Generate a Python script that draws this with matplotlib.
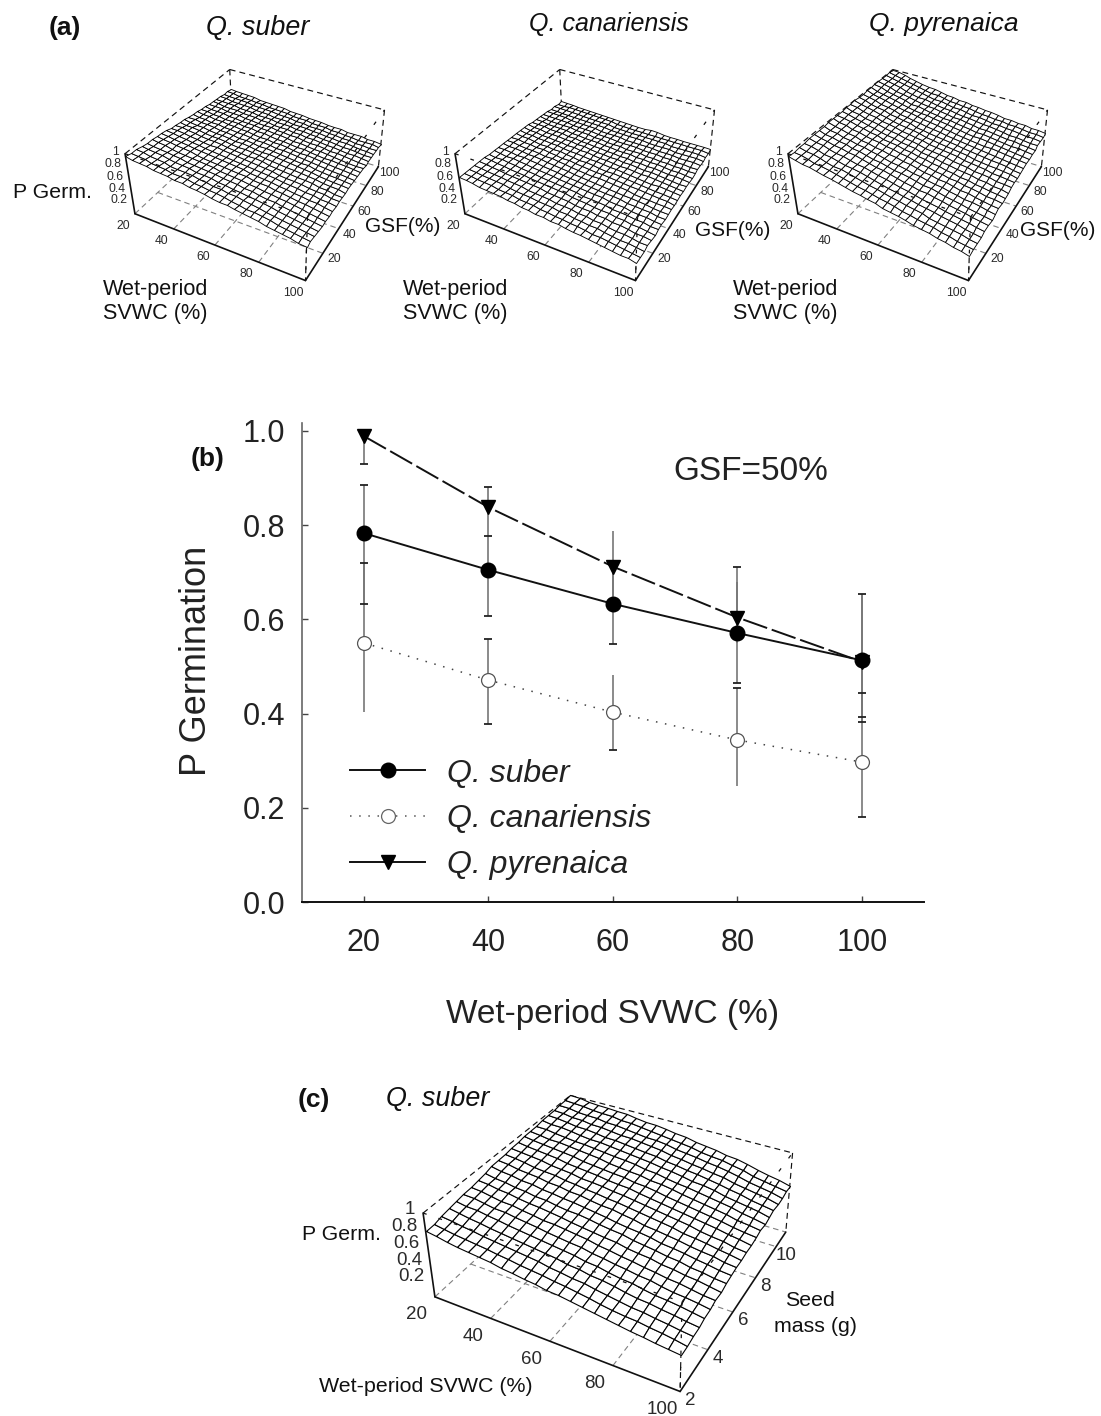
import numpy as np
import matplotlib
matplotlib.use("Agg")
import matplotlib.pyplot as plt
from matplotlib.colors import ListedColormap
from matplotlib.lines import Line2D

plt.rcParams['font.family'] = ['Liberation Sans', 'DejaVu Sans']

# ---------- panel (b) data ----------
svwc = [20, 40, 60, 80, 100]
suber = [0.783, 0.705, 0.633, 0.571, 0.513]
canariensis = [0.550, 0.471, 0.403, 0.344, 0.297]
pyrenaica = [0.989, 0.838, 0.712, 0.604, 0.510]
suber_lo = [0.633, 0.607, 0.548, 0.464, 0.383]
suber_hi = [0.885, 0.778, 0.712, 0.680, 0.654]
canariensis_lo = [0.404, 0.378, 0.322, 0.246, 0.181]
canariensis_hi = [0.719, 0.559, 0.482, 0.455, 0.444]
pyrenaica_lo = [0.929, 0.778, 0.650, 0.550, 0.393]
pyrenaica_hi = [1.000, 0.882, 0.788, 0.712, 0.654]
cap_x = [20, 20, 20, 20, 40, 40, 40, 40, 40, 60, 60, 80, 80, 80, 100, 100, 100, 100, 100]
cap_y = [0.929, 0.885, 0.719, 0.633, 0.882, 0.778, 0.607, 0.559, 0.378, 0.548, 0.322,
         0.712, 0.464, 0.455, 0.654, 0.444, 0.393, 0.383, 0.181]
yticks_b = [0.0, 0.2, 0.4, 0.6, 0.8, 1.0]

# ---------- surface data: P germination read at the tick positions ----------
wet_nodes = [20, 40, 60, 80, 100]
gsf_nodes = [0, 20, 40, 60, 80, 100]
seed_nodes = [2, 4, 6, 8, 10, 11]
z_suber = [[.96, .90, .83, .76, .70, .65],
           [.87, .81, .75, .69, .64, .59],
           [.78, .73, .68, .63, .58, .53],
           [.67, .64, .60, .56, .52, .47],
           [.55, .53, .51, .48, .45, .42]]
z_canariensis = [[.63, .60, .57, .53, .47, .42],
                 [.55, .53, .51, .47, .43, .39],
                 [.47, .46, .44, .41, .38, .36],
                 [.39, .38, .37, .36, .35, .34],
                 [.30, .30, .30, .30, .31, .33]]
z_pyrenaica = [[.96, .98, .99, 1.0, 1.0, 1.0],
               [.83, .85, .85, .84, .84, .86],
               [.69, .71, .72, .72, .74, .76],
               [.55, .58, .60, .62, .65, .68],
               [.41, .45, .49, .53, .57, .61]]
z_seed = [[.79, .86, .92, .96, .99, 1.0],
          [.70, .77, .83, .88, .93, .95],
          [.61, .68, .74, .80, .85, .87],
          [.51, .57, .63, .69, .74, .76],
          [.42, .47, .52, .56, .59, .60]]
wet_ticks = [20, 40, 60, 80, 100]
gsf_ticks = [20, 40, 60, 80, 100]
seed_ticks = [2, 4, 6, 8, 10]
z_ticks = [0.2, 0.4, 0.6, 0.8, 1]
z_ticklabels = ['0.2', '0.4', '0.6', '0.8', '1']

# ---------- layout (pixels of the 1101x1416 figure) ----------
W, H = 1101, 1416
# box corners: (u wet, v second axis, w z) -> pixel
CUBE = [(0, 0, 1), (0, 0, 0), (1, 0, 0), (1, 0, 1), (1, 1, 1), (1, 1, 0), (0, 1, 1), (0, 1, 0)]
CAM_A = [(125, 154), (135, 214), (305, 281), (308, 216), (385, 110), (378, 167), (229, 70), (233, 122)]
CAM_C = [(422.6, 1212.7), (435.6, 1298.3), (678, 1392), (684, 1300), (793, 1153), (785.6, 1233), (569, 1097), (575, 1167)]


def camera(corners, dx=0):
    A, b = [], []
    for (u, v, w), (x, y) in zip(CUBE, corners):
        x = x + dx
        A.append([u, v, w, 1, 0, 0, 0, 0, -x * u, -x * v, -x * w])
        b.append(x)
        A.append([0, 0, 0, 0, u, v, w, 1, -y * u, -y * v, -y * w])
        b.append(y)
    p = np.linalg.lstsq(np.array(A, float), np.array(b, float), rcond=None)[0]
    return np.append(p, 1).reshape(3, 4)


def project(P, u, v, w):
    u, v, w = np.broadcast_arrays(np.asarray(u, float), np.asarray(v, float), np.asarray(w, float))
    h = P @ np.stack([u.ravel(), v.ravel(), w.ravel(), np.ones(u.size)])
    return (h[0] / h[2]).reshape(u.shape), (h[1] / h[2]).reshape(u.shape)


def surface_panel(fig, P, table, xn, yn, yrange, yticks, tick_fs, ltx, lty, lz, n, mesh_lw):
    ax = fig.add_axes([0, 0, 1, 1], facecolor='none')
    ax.set_xlim(0, W)
    ax.set_ylim(H, 0)
    ax.axis('off')
    xr = (min(xn), max(xn))
    nu = lambda x: (np.asarray(x, float) - xr[0]) / (xr[1] - xr[0])
    nv = lambda y: (np.asarray(y, float) - yrange[0]) / (yrange[1] - yrange[0])

    def seg(a, b, **kw):
        px, py = project(P, *zip(a, b))
        ax.plot(px, py, **kw)

    dash = dict(color='#111111', lw=0.85, ls=(0, (5, 3.5)), zorder=2)
    grid = dict(color='#808080', lw=0.8, ls=(0, (5, 3.5)), zorder=1)
    solid = dict(color='#111111', lw=1.2, zorder=6, solid_capstyle='round')
    # base grid and hidden box edges, behind the surface
    for t in xn[1:-1]:
        seg((nu(t), 0, 0), (nu(t), 1, 0), **grid)
    for t in yticks:
        if 0 < nv(t) < 1:
            seg((0, nv(t), 0), (1, nv(t), 0), **grid)
    seg((0, 0, 0), (0, 1, 0), **grid)
    seg((0, 1, 0), (1, 1, 0), **grid)
    seg((0, 0, 1), (0, 1, 1), **dash)
    seg((0, 1, 1), (1, 1, 1), **dash)
    seg((0, 1, 1), (0, 1, 0), **dash)
    seg((1, 1, 1), (1, 1, 0), **dash)
    seg((1, 0, 1), (1, 0, 0), **dash)

    # surface: wire mesh through the values read at the tick positions
    U = np.linspace(0, 1, n)
    V = np.linspace(0, 1, n)
    tab = np.asarray(table, float)
    bynode = np.array([np.interp(V, nv(yn), row) for row in tab])
    Z = np.array([np.interp(U, nu(xn), bynode[:, j]) for j in range(n)]).T
    UU, VV = np.meshgrid(U, V, indexing='ij')
    PX, PY = project(P, UU, VV, Z)
    ax.pcolormesh(PX, PY, np.zeros((n - 1, n - 1)), cmap=ListedColormap(['white']),
                  edgecolors='black', linewidth=mesh_lw, shading='flat', zorder=3, antialiased=True)

    # box edges that print through the mesh
    over = dict(color='#111111', lw=0.9, ls=(0, (3, 10)), zorder=4)
    seg((0, 0, 1), (1, 0, 1), **over)
    seg((1, 0, 1), (1, 1, 1), **over)
    seg((1, 0, 1), (1, 0, 0), **over)
    seg((0, 0, 1), (0, 0, 0), **solid)
    seg((0, 0, 0), (1, 0, 0), **solid)
    seg((1, 0, 0), (1, 1, 0), **solid)

    # ticks
    tk = dict(fontsize=tick_fs, color='#2a2a2a', zorder=7)
    for t in wet_ticks:
        x, y = project(P, nu(t), 0, 0)
        ax.text(x + ltx[0], y + ltx[1], str(t), ha='center', va='center', **tk)
    for t in yticks:
        x, y = project(P, 1, nv(t), 0)
        ax.text(x + lty[0], y + lty[1], str(t), ha='center', va='center', **tk)
    for t, s in zip(z_ticks, z_ticklabels):
        x, y = project(P, 0, 0, t)
        ax.text(x + lz[0], y + lz[1], s, ha='right', va='center', **tk)
    return ax


fig = plt.figure(figsize=(W / 100, H / 100), dpi=100, facecolor='white')

# ---------- panel (b) ----------
axb = fig.add_axes([301.75 / W, 1 - 902 / H, (924.25 - 301.75) / W, (902 - 423) / H])
axb.set_xlim(10, 110)
axb.set_ylim(0, (902 - 423) / 471)
bar = dict(color='#777777', lw=1.2, zorder=2)
for lo, hi in ((suber_lo, suber_hi), (canariensis_lo, canariensis_hi), (pyrenaica_lo, pyrenaica_hi)):
    axb.vlines(svwc, lo, hi, **bar)
axb.plot(cap_x, cap_y, ls='none', marker='_', ms=6, mew=1.3, color='#222222', zorder=3)
axb.plot(svwc, canariensis, color='#444444', lw=1.1, ls=(0, (1, 5)), zorder=3)
axb.plot(svwc, canariensis, ls='none', marker='o', ms=10, mfc='white', mec='#555555', mew=0.9, zorder=4)
axb.plot(svwc, pyrenaica, color='#111111', lw=1.4, ls=(0, (13, 2.5)), marker='v', ms=10.5, mfc='black', mec='black', zorder=5)
axb.plot(svwc, suber, color='#111111', lw=1.4, marker='o', ms=10.5, mfc='black', mec='black', zorder=6)
for s in ('top', 'right'):
    axb.spines[s].set_visible(False)
axb.spines['left'].set_color('#666666')
axb.spines['left'].set_linewidth(1.2)
axb.spines['bottom'].set_color('#111111')
axb.spines['bottom'].set_linewidth(1.4)
axb.set_xticks(svwc)
axb.set_yticks(yticks_b)
axb.set_yticklabels([f'{v:.1f}' for v in yticks_b])
axb.tick_params(axis='both', direction='in', length=4.5, width=1.0, color='#444444',
                labelsize=22, labelcolor='#222222')
axb.tick_params(axis='y', pad=12)
axb.tick_params(axis='x', pad=19)
handles = [Line2D([], [], color='#111111', lw=1.4, marker='o', ms=10.5, mfc='black', mec='black'),
           Line2D([], [], color='#555555', lw=1.1, ls=(0, (1, 5)), marker='o', ms=10, mfc='white', mec='#666666', mew=0.9),
           Line2D([], [], color='#111111', lw=1.4, marker='v', ms=10.5, mfc='black', mec='black')]
leg = axb.legend(handles, ['Q. suber', 'Q. canariensis', 'Q. pyrenaica'], frameon=False, numpoints=1,
                 prop=dict(style='italic', size=23), handlelength=2.35, handletextpad=0.68,
                 labelspacing=0.5, loc='lower left', bbox_to_anchor=(0.078, 0.045), borderaxespad=0, borderpad=0)
for t in leg.get_texts():
    t.set_color('#222222')

# ---------- panels (a) and (c) ----------
LA = dict(tick_fs=8.7, ltx=(-12, 12), lty=(11, 6), lz=(-6, -2), n=25, mesh_lw=0.62)
ax1 = surface_panel(fig, camera(CAM_A), z_suber, wet_nodes, gsf_nodes, (0, 100), gsf_ticks, **LA)
surface_panel(fig, camera(CAM_A, 330), z_canariensis, wet_nodes, gsf_nodes, (0, 100), gsf_ticks, **LA)
surface_panel(fig, camera(CAM_A, 663), z_pyrenaica, wet_nodes, gsf_nodes, (0, 100), gsf_ticks, **LA)
surface_panel(fig, camera(CAM_C), z_seed, wet_nodes, seed_nodes, (2, 11), seed_ticks,
              tick_fs=13.5, ltx=(-18, 18), lty=(10, 9), lz=(-8, -4), n=23, mesh_lw=0.8)

# ---------- free text ----------
def T(x, y, s, fs, **kw):
    kw.setdefault('ha', 'center')
    ax1.text(x, y, s, fontsize=fs, va='center', color=kw.pop('color', '#111111'), zorder=10, **kw)

T(65, 28, '(a)', 19, fontweight='bold')
T(208, 459, '(b)', 19, fontweight='bold')
T(314, 1100, '(c)', 19, fontweight='bold')
T(258, 28, 'Q. suber', 19.4, style='italic')
T(609, 24, 'Q. canariensis', 18, style='italic')
T(944, 24, 'Q. pyrenaica', 19, style='italic')
T(438, 1099, 'Q. suber', 19.4, style='italic')
T(52, 193, 'P Germ.', 15.3)
T(341, 1235, 'P Germ.', 15.3)
for x0 in (103, 403, 733):
    T(x0, 290, 'Wet-period', 15.6, ha='left')
    T(x0, 314, 'SVWC (%)', 15.6, ha='left')
T(403, 227, 'GSF(%)', 15)
T(733, 230, 'GSF(%)', 15)
T(1058, 230, 'GSF(%)', 15)
T(810, 1301, 'Seed', 15.4)
T(816, 1326, 'mass (g)', 15.4)
T(426, 1387, 'Wet-period SVWC (%)', 15.4)
T(751, 471, 'GSF=50%', 24, color='#222222')
T(197, 661, 'P Germination', 26, rotation=90, color='#222222')
T(613, 1015, 'Wet-period SVWC (%)', 24, color='#222222')

fig.savefig('out.png', dpi=100)
